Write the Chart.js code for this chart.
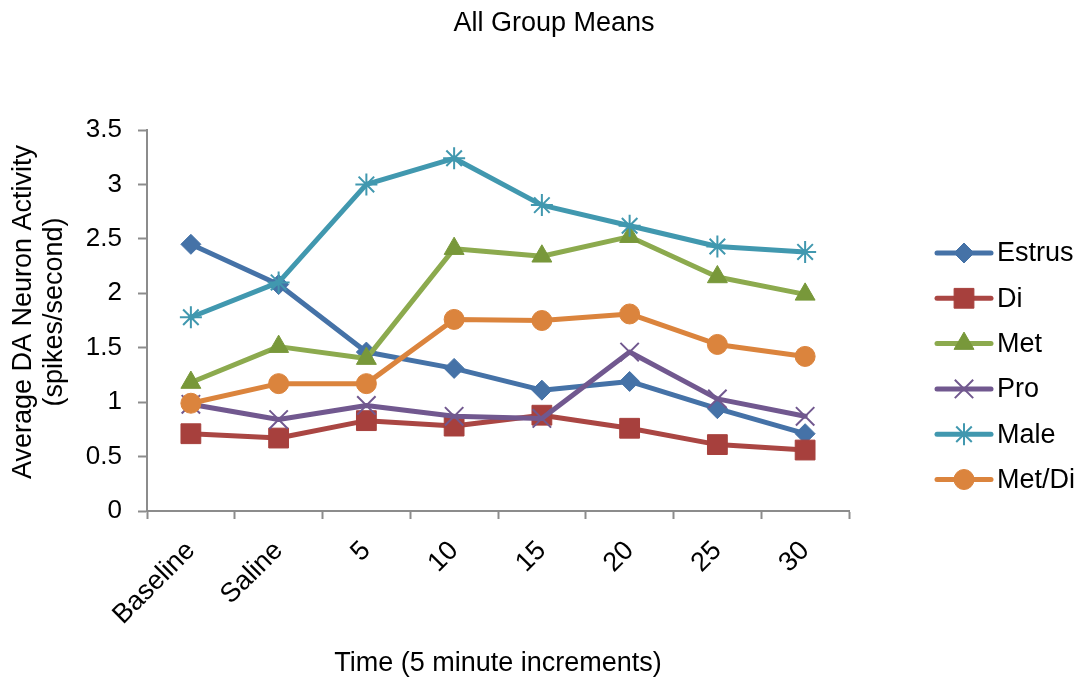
<!DOCTYPE html>
<html>
<head>
<meta charset="utf-8">
<script src="https://cdn.jsdelivr.net/npm/chart.js@4/dist/chart.umd.min.js"></script>
<style>
  html, body { margin: 0; padding: 0; background: #ffffff; }
  canvas { display: block; }
</style>
</head>
<body>
<canvas id="chart" width="1078" height="685"></canvas>
<script>
// Time points (5 minute increments)
const categories = ['Baseline', 'Saline', '5', '10', '15', '20', '25', '30'];

// Average DA neuron activity (spikes/second) per group
const estrus = [2.45, 2.08, 1.46, 1.31, 1.11, 1.19, 0.94, 0.71];
const di     = [0.71, 0.67, 0.83, 0.78, 0.88, 0.76, 0.61, 0.56];
const met    = [1.18, 1.51, 1.40, 2.41, 2.34, 2.52, 2.15, 1.99];
const pro    = [0.98, 0.84, 0.97, 0.87, 0.85, 1.46, 1.03, 0.87];
const male   = [1.78, 2.10, 3.00, 3.24, 2.81, 2.62, 2.43, 2.38];
const metDi  = [0.99, 1.17, 1.17, 1.76, 1.75, 1.81, 1.53, 1.42];

const seriesNames = ['Estrus', 'Di', 'Met', 'Pro', 'Male', 'Met/Di'];
const yTicks = [0, 0.5, 1, 1.5, 2, 2.5, 3, 3.5];
const yTitleLines = ['Average DA Neuron Activity', '(spikes/second)'];

const FONT = '"Liberation Sans", Arial, Helvetica, sans-serif';
const AXIS_GREY = '#8c8c8c';

const styles = [
  { line: '#4572A7', point: '#4572A7', shape: 'rectRot',  radius: 10,  bw: 1 },
  { line: '#AA4643', point: '#A7403D', shape: 'rect',     radius: 14,  bw: 1 },
  { line: '#8CAA4E', point: '#78983A', shape: 'triangle', radius: 11.5, bw: 1 },
  { line: '#71588F', point: '#71588F', shape: 'crossRot', radius: 13,  bw: 2 },
  { line: '#4198AF', point: '#4198AF', shape: 'star',     radius: 11,  bw: 2 },
  { line: '#DB843D', point: '#DB843D', shape: 'circle',   radius: 10,  bw: 1 }
];
const values = [estrus, di, met, pro, male, metDi];

const datasets = values.map((v, i) => ({
  label: seriesNames[i],
  data: v,
  borderColor: styles[i].line,
  backgroundColor: styles[i].point,
  borderWidth: 5,
  borderCapStyle: 'round',
  borderJoinStyle: 'round',
  tension: 0,
  pointStyle: styles[i].shape,
  pointRadius: styles[i].radius,
  pointHoverRadius: styles[i].radius,
  pointBackgroundColor: styles[i].point,
  pointBorderColor: styles[i].point,
  pointBorderWidth: styles[i].bw,
  // later series are painted over earlier ones
  order: values.length - i
}));

// Chart title, vertical axis title and series key
const decorations = {
  id: 'decorations',
  afterDraw(chart) {
    const ctx = chart.ctx;
    ctx.save();
    ctx.fillStyle = '#000';
    ctx.font = '27px ' + FONT;
    ctx.textAlign = 'center';
    ctx.textBaseline = 'alphabetic';
    ctx.fillText('All Group Means', 554, 31);

    // vertical axis title, two lines
    ctx.save();
    ctx.translate(0, 312);
    ctx.rotate(-Math.PI / 2);
    ctx.textBaseline = 'middle';
    ctx.fillText(yTitleLines[0], 0, 24);
    ctx.fillText(yTitleLines[1], 0, 55);
    ctx.restore();

    const x0 = 937, x1 = 991, xm = 964, tx = 997;
    const y0 = 253, step = 45.3;
    chart.data.datasets.forEach((ds, i) => {
      const y = y0 + i * step;
      ctx.strokeStyle = ds.borderColor;
      ctx.lineWidth = 5;
      ctx.lineCap = 'round';
      ctx.beginPath();
      ctx.moveTo(x0, y);
      ctx.lineTo(x1, y);
      ctx.stroke();

      ctx.fillStyle = ds.pointBackgroundColor;
      ctx.strokeStyle = ds.pointBorderColor;
      ctx.lineWidth = ds.pointBorderWidth;
      ctx.lineCap = 'butt';
      Chart.helpers.drawPoint(ctx, {
        pointStyle: ds.pointStyle,
        rotation: 0,
        radius: ds.pointRadius,
        borderWidth: ds.pointBorderWidth
      }, xm, y);

      ctx.fillStyle = '#000';
      ctx.font = '27px ' + FONT;
      ctx.textAlign = 'left';
      ctx.textBaseline = 'middle';
      ctx.fillText(ds.label, tx, y + 1);
    });
    ctx.restore();
  }
};

new Chart(document.getElementById('chart'), {
  type: 'line',
  data: { labels: categories, datasets },
  options: {
    responsive: false,
    animation: false,
    devicePixelRatio: 1,
    events: [],
    layout: { padding: { top: 130, left: 0, right: 229, bottom: 0 } },
    plugins: {
      legend: { display: false },
      title: { display: false },
      tooltip: { enabled: false }
    },
    scales: {
      x: {
        type: 'category',
        offset: true,
        afterFit(scale) { scale.height = 174; },
        grid: {
          display: true,
          offset: true,
          drawOnChartArea: false,
          drawTicks: true,
          tickLength: 8,
          tickWidth: 2,
          color: AXIS_GREY
        },
        border: { display: true, color: AXIS_GREY, width: 2 },
        ticks: {
          color: '#000',
          font: { family: FONT, size: 27 },
          minRotation: 45,
          maxRotation: 45,
          autoSkip: false,
          padding: 16
        },
        title: {
          display: true,
          text: 'Time (5 minute increments)',
          color: '#000',
          font: { family: FONT, size: 27 },
          padding: { top: 0, bottom: 5 }
        }
      },
      y: {
        type: 'linear',
        min: 0,
        max: 3.5,
        afterFit(scale) { scale.width = 147; },
        afterBuildTicks(scale) { scale.ticks = yTicks.map(v => ({ value: v })); },
        grid: {
          display: true,
          drawOnChartArea: false,
          drawTicks: true,
          tickLength: 9,
          tickWidth: 2,
          color: AXIS_GREY
        },
        border: { display: true, color: AXIS_GREY, width: 2 },
        ticks: {
          color: '#000',
          font: { family: FONT, size: 26 },
          padding: 16,
          callback: v => String(v)
        },
        title: { display: false }
      }
    }
  },
  plugins: [decorations]
});
</script>
</body>
</html>
